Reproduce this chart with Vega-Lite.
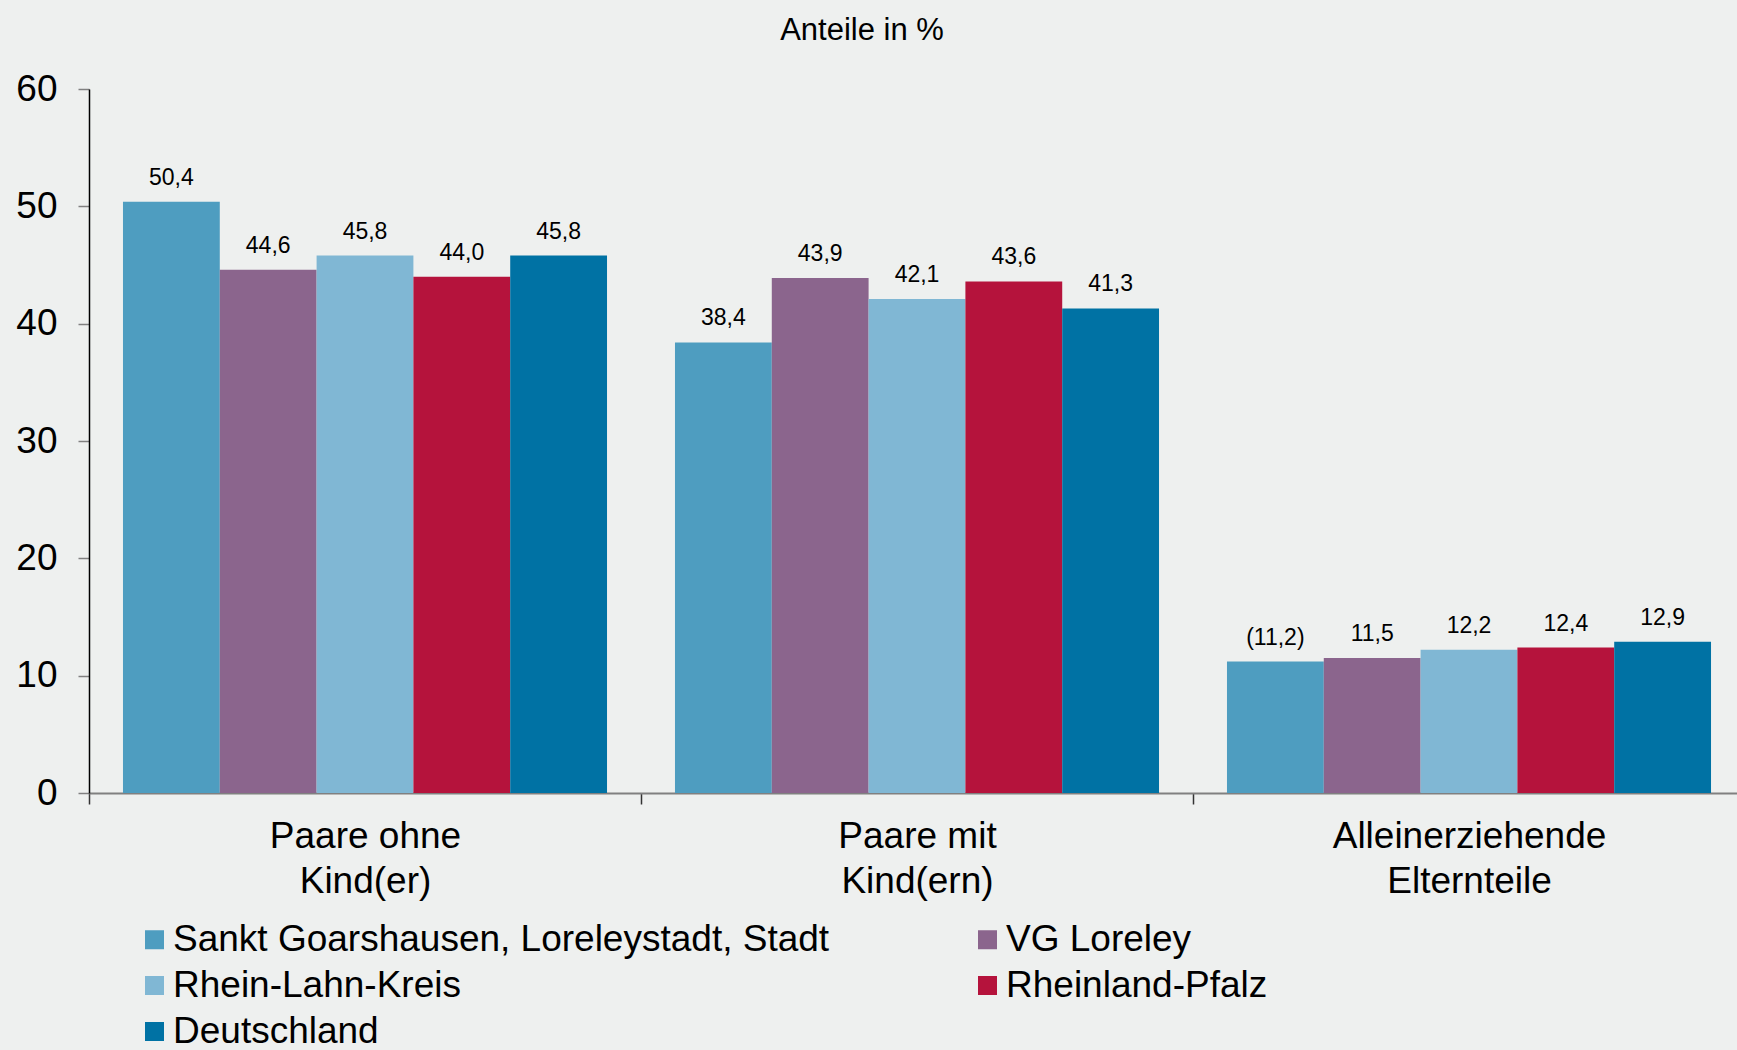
{
  "$schema": "https://vega.github.io/schema/vega-lite/v6.json",
  "width": 1656,
  "height": 704,
  "autosize": {"type": "none"},
  "padding": {"left": 89, "top": 89, "right": 0, "bottom": 257},
  "background": "#eef0ef",
  "config": {
    "view": {"stroke": null},
    "font": "Liberation Sans",
    "text": {"font": "Liberation Sans"}
  },
  "title": {
    "text": "Anteile in %",
    "fontSize": 31,
    "fontWeight": "normal",
    "font": "Liberation Sans",
    "color": "#000000",
    "anchor": "middle",
    "frame": "group",
    "dx": -55,
    "baseline": "alphabetic",
    "offset": -1
  },
  "data": {
    "values": [
      {"kategorie": "Paare ohne|Kind(er)", "gebiet": "Sankt Goarshausen, Loreleystadt, Stadt", "wert": 50.4, "label": "50,4"},
      {"kategorie": "Paare ohne|Kind(er)", "gebiet": "VG Loreley", "wert": 44.6, "label": "44,6"},
      {"kategorie": "Paare ohne|Kind(er)", "gebiet": "Rhein-Lahn-Kreis", "wert": 45.8, "label": "45,8"},
      {"kategorie": "Paare ohne|Kind(er)", "gebiet": "Rheinland-Pfalz", "wert": 44.0, "label": "44,0"},
      {"kategorie": "Paare ohne|Kind(er)", "gebiet": "Deutschland", "wert": 45.8, "label": "45,8"},
      {"kategorie": "Paare mit|Kind(ern)", "gebiet": "Sankt Goarshausen, Loreleystadt, Stadt", "wert": 38.4, "label": "38,4"},
      {"kategorie": "Paare mit|Kind(ern)", "gebiet": "VG Loreley", "wert": 43.9, "label": "43,9"},
      {"kategorie": "Paare mit|Kind(ern)", "gebiet": "Rhein-Lahn-Kreis", "wert": 42.1, "label": "42,1"},
      {"kategorie": "Paare mit|Kind(ern)", "gebiet": "Rheinland-Pfalz", "wert": 43.6, "label": "43,6"},
      {"kategorie": "Paare mit|Kind(ern)", "gebiet": "Deutschland", "wert": 41.3, "label": "41,3"},
      {"kategorie": "Alleinerziehende|Elternteile", "gebiet": "Sankt Goarshausen, Loreleystadt, Stadt", "wert": 11.2, "label": "(11,2)"},
      {"kategorie": "Alleinerziehende|Elternteile", "gebiet": "VG Loreley", "wert": 11.5, "label": "11,5"},
      {"kategorie": "Alleinerziehende|Elternteile", "gebiet": "Rhein-Lahn-Kreis", "wert": 12.2, "label": "12,2"},
      {"kategorie": "Alleinerziehende|Elternteile", "gebiet": "Rheinland-Pfalz", "wert": 12.4, "label": "12,4"},
      {"kategorie": "Alleinerziehende|Elternteile", "gebiet": "Deutschland", "wert": 12.9, "label": "12,9"}
    ]
  },
  "encoding": {
    "x": {
      "field": "kategorie",
      "type": "nominal",
      "sort": null,
      "scale": {"paddingInner": 0, "paddingOuter": 0},
      "axis": {
        "title": null,
        "labelAngle": 0,
        "labelExpr": "isValid(datum.value) ? split(datum.value, '|') : ''",
        "labelFontSize": 37,
        "labelColor": "#000000",
        "labelLineHeight": 45,
        "labelPadding": 14,
        "labelLimit": 1000,
        "labelFont": "Liberation Sans",
        "tickBand": "extent",
        "tickSize": 11,
        "tickColor": "#333333",
        "tickWidth": 1.5,
        "domainColor": "#808080",
        "domainWidth": 2
      }
    },
    "xOffset": {
      "field": "gebiet",
      "type": "nominal",
      "sort": ["Sankt Goarshausen, Loreleystadt, Stadt", "VG Loreley", "Rhein-Lahn-Kreis", "Rheinland-Pfalz", "Deutschland"],
      "scale": {"paddingInner": 0, "paddingOuter": 0.351}
    },
    "y": {
      "field": "wert",
      "type": "quantitative",
      "scale": {"domain": [0, 60], "nice": false},
      "axis": {
        "title": null,
        "values": [0, 10, 20, 30, 40, 50, 60],
        "grid": false,
        "labelFontSize": 37,
        "labelColor": "#000000",
        "labelPadding": 21,
        "labelFont": "Liberation Sans",
        "tickSize": 11,
        "tickColor": "#808080",
        "tickWidth": 1.5,
        "domainColor": "#000000",
        "domainWidth": 1.5
      }
    }
  },
  "layer": [
    {
      "mark": {"type": "bar"},
      "encoding": {
        "color": {
          "field": "gebiet",
          "type": "nominal",
          "scale": {
            "domain": ["Sankt Goarshausen, Loreleystadt, Stadt", "Rhein-Lahn-Kreis", "Deutschland", "VG Loreley", "Rheinland-Pfalz"],
            "range": ["#4e9dc0", "#80b7d4", "#0072a4", "#8b658d", "#b5133c"]
          },
          "legend": {
            "title": null,
            "orient": "none",
            "legendX": 47,
            "legendY": 832,
            "columns": 2,
            "columnPadding": 139,
            "rowPadding": 8,
            "padding": 0,
            "symbolType": "square",
            "symbolSize": 361,
            "symbolStrokeWidth": 0,
            "symbolOpacity": 1,
            "labelFontSize": 37,
            "labelFont": "Liberation Sans",
            "labelColor": "#000000",
            "labelOffset": 0,
            "labelLimit": 0
          }
        }
      }
    },
    {
      "mark": {"type": "text", "baseline": "alphabetic", "dy": -17, "fontSize": 23, "font": "Liberation Sans", "color": "#000000"},
      "encoding": {
        "text": {"field": "label"}
      }
    }
  ]
}
